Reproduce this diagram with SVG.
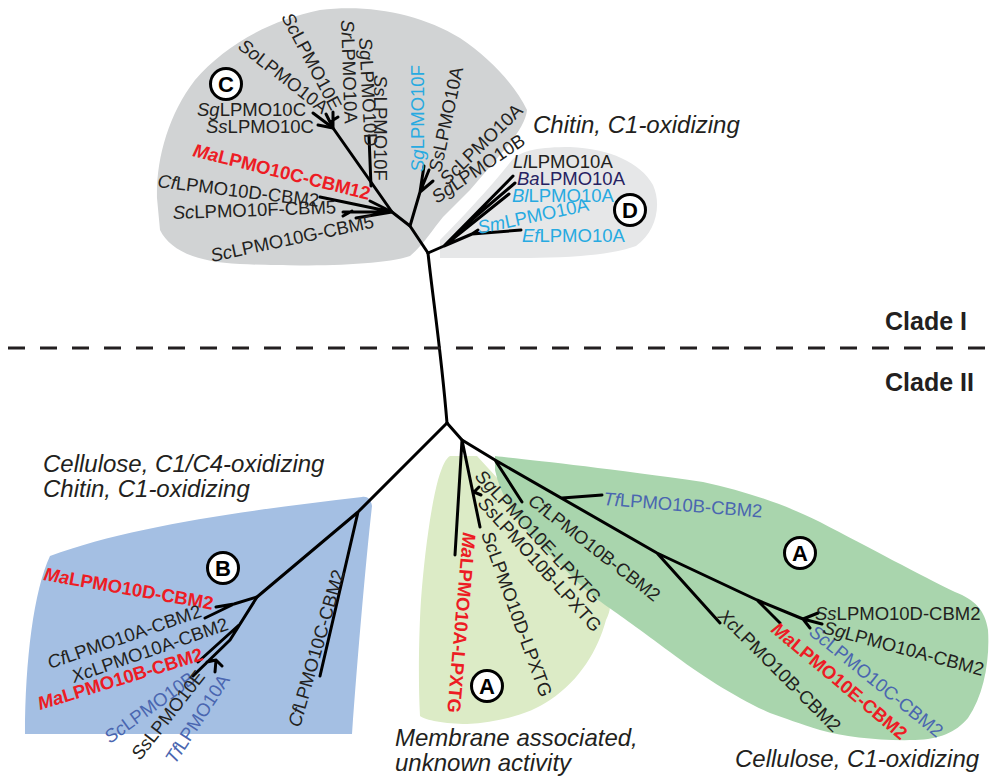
<svg xmlns="http://www.w3.org/2000/svg" width="992" height="779" viewBox="0 0 992 779">
<style>
.t{font-family:"Liberation Sans",Arial,sans-serif;font-size:18.5px;fill:#231f20}
.r{fill:#ed1c24;font-weight:bold}
.bl{fill:#4a66b0}
.lb{fill:#27aae1}
.nv{fill:#262262}
.i{font-style:italic}
.an{font-family:"Liberation Sans",Arial,sans-serif;font-size:24px;font-style:italic;fill:#231f20}
.cl{font-family:"Liberation Sans",Arial,sans-serif;font-size:25px;font-weight:bold;fill:#231f20}
.br{stroke:#000;stroke-width:3;fill:none;stroke-linecap:round;stroke-linejoin:round}
.cc{fill:#fff;stroke:#000;stroke-width:3}
.cz{font-family:"Liberation Sans",Arial,sans-serif;font-size:22px;font-weight:bold;fill:#000;text-anchor:middle}
</style>
<rect width="992" height="779" fill="#fff"/>
<g id="regions">
<path id="region-C" fill="#d1d3d4" d="M157,198 C156,160 168,115 195,80 C225,45 270,20 320,10 C370,4 420,14 460,38 C490,58 515,85 527,110 C526,122 515,138 500,155 L470,190 L443,217 C432,230 425,243 410,256 C380,266 300,267 240,264 C195,262 170,250 160,230 Z"/>
<path id="region-D" fill="#e6e7e8" d="M440,258 L440,240 C460,220 490,188 512,160 C522,150 540,147 570,147 C610,149 640,162 653,185 C662,205 656,232 636,246 C610,256 560,258 520,258 Z"/>
<path id="region-B" fill="#a4bfe3" d="M50,556 C34,590 25,660 25,734 L352,734 C358,650 366,560 372,506 C371,499 367,496 362,497 C250,510 130,526 50,556 Z"/>
<path id="region-A1" fill="#dcebc6" d="M450,456 L477,456 L607,598 C612,604 610,612 606,620 C598,650 580,680 550,700 C530,714 500,722 467,724 C445,724 425,720 420,716 C418,680 419,630 421,600 C424,560 430,510 438,480 C442,466 446,458 450,456 Z"/>
<path id="region-A2" fill="#a9d5ad" d="M495,456 C530,460 600,467 703,482 C750,492 790,507 820,522 C870,548 920,575 955,592 C975,600 985,610 988,630 C990,660 984,695 968,718 C955,733 940,739 915,740 C880,741 845,737 820,730 C800,724 785,718 770,713 C740,700 700,675 670,652 C640,630 620,615 605,605 C585,590 570,575 558,562 C540,545 525,530 515,515 C505,500 498,485 495,470 Z"/>
</g>
<g id="connectors">
<path class="br" d="M428,253 C433,300 441,350 447,423"/>
<path class="br" d="M428,253 L410,226 L392,212 L333,128 L313,113"/>
<path class="br" d="M410,226 L420,192 L424,166 M420,192 L429,170 M420,192 L433,181"/>
<path class="br" d="M392,212 L320,197 M392,212 L370,201 M392,212 L343,212 M352,211 L343,216 M392,212 L356,218"/>
<path class="br" d="M371,186 L369,136"/>
<path class="br" d="M333,128 L318,125 M333,128 L326,114 M333,128 L333,112 M330,122 L338,117"/>
<path class="br" d="M428,253 L444,246 L513,176 M462,228 L515,183 M444,246 L509,194 M444,246 L472,234 L521,230 M472,234 L478,230"/>
<path class="br" d="M447,423 L358,512 L320,676 M358,512 L257,597 L234,604 L216,607 M234,604 L205,618"/>
<path class="br" d="M257,597 L230,640 L193,676 M239,625 L198,662 M207,662 L216,660 L215,672 M216,660 L222,666"/>
<path class="br" d="M447,423 L462,440 L455,555 M462,440 L480,527 M474,492 L479,487 M474,492 L481,495"/>
<path class="br" d="M462,440 L495,460 L522,502 M495,460 L657,553 L757,600 L803,619 M562,498 L602,495 M657,553 L720,623 M757,600 L780,623 M803,619 L818,613 M803,619 L822,624 M803,619 L810,628"/>
</g>
<g id="divider">
<line x1="8" y1="348" x2="992" y2="348" stroke="#231f20" stroke-width="3" stroke-dasharray="17 15"/>
</g>
<g id="clade-labels">
<text class="cl" x="885" y="330">Clade I</text>
<text class="cl" x="885" y="391">Clade II</text>
</g>
<g id="annotations">
<text class="an" x="533" y="133">Chitin, C1-oxidizing</text>
<text class="an" x="43" y="472">Cellulose, C1/C4-oxidizing</text>
<text class="an" x="43" y="497">Chitin, C1-oxidizing</text>
<text class="an" x="395" y="746">Membrane associated,</text>
<text class="an" x="395" y="771">unknown activity</text>
<text class="an" x="735" y="767">Cellulose, C1-oxidizing</text>
</g>
<g id="group-circles">
<g id="circle-C"><circle class="cc" cx="226" cy="84" r="15.5"/><text class="cz" x="226" y="92">C</text></g>
<g id="circle-D"><circle class="cc" cx="630" cy="210" r="15.5"/><text class="cz" x="630" y="218">D</text></g>
<g id="circle-B"><circle class="cc" cx="223" cy="568" r="15.5"/><text class="cz" x="223" y="576">B</text></g>
<g id="circle-A1"><circle class="cc" cx="487" cy="686" r="15.5"/><text class="cz" x="487" y="694">A</text></g>
<g id="circle-A2"><circle class="cc" cx="800" cy="553" r="15.5"/><text class="cz" x="800" y="561">A</text></g>
</g>
<g id="leaves-C">
<g id="SgLPMO10C"><text class="t" transform="translate(197,116)"><tspan class="i">Sg</tspan>LPMO10C</text></g>
<g id="SsLPMO10C"><text class="t" transform="translate(206,133)"><tspan class="i">Ss</tspan>LPMO10C</text></g>
<g id="MaLPMO10C"><text class="t r" transform="translate(192,156) rotate(14)"><tspan class="i">Ma</tspan>LPMO10C-CBM12</text></g>
<g id="CfLPMO10D"><text class="t" transform="translate(157,187) rotate(7)"><tspan class="i">Cf</tspan>LPMO10D-CBM2</text></g>
<g id="ScLPMO10F"><text class="t" transform="translate(173,219) rotate(-2)"><tspan class="i">Sc</tspan>LPMO10F-CBM5</text></g>
<g id="ScLPMO10G"><text class="t" transform="translate(212,262) rotate(-12)"><tspan class="i">Sc</tspan>LPMO10G-CBM5</text></g>
<g id="SoLPMO10A"><text class="t" transform="translate(237,48) rotate(38)"><tspan class="i">So</tspan>LPMO10A</text></g>
<g id="ScLPMO10E"><text class="t" transform="translate(281,17) rotate(62)"><tspan class="i">Sc</tspan>LPMO10E</text></g>
<g id="SrLPMO10A"><text class="t" transform="translate(341,20) rotate(88)"><tspan class="i">Sr</tspan>LPMO10A</text></g>
<g id="SgLPMO10D"><text class="t" transform="translate(359,38) rotate(87)"><tspan class="i">Sg</tspan>LPMO10D</text></g>
<g id="SsLPMO10F"><text class="t" transform="translate(374,75) rotate(90)"><tspan class="i">Ss</tspan>LPMO10F</text></g>
<g id="SgLPMO10F"><text class="t lb" transform="translate(424,172) rotate(-90)"><tspan class="i">Sg</tspan>LPMO10F</text></g>
<g id="SsLPMO10A"><text class="t" transform="translate(441,173) rotate(-78)"><tspan class="i">Ss</tspan>LPMO10A</text></g>
<g id="ScLPMO10A"><text class="t" transform="translate(447,186) rotate(-44)"><tspan class="i">Sc</tspan>LPMO10A</text></g>
<g id="SgLPMO10B"><text class="t" transform="translate(437,204) rotate(-34)"><tspan class="i">Sg</tspan>LPMO10B</text></g>
</g>
<g id="leaves-D">
<g id="LlLPMO10A"><text class="t" x="513" y="168"><tspan class="i">Ll</tspan>LPMO10A</text></g>
<g id="BaLPMO10A"><text class="t nv" x="517" y="185"><tspan class="i">Ba</tspan>LPMO10A</text></g>
<g id="BlLPMO10A"><text class="t lb" x="512" y="202"><tspan class="i">Bl</tspan>LPMO10A</text></g>
<g id="SmLPMO10A"><text class="t lb" transform="translate(479,234) rotate(-12)"><tspan class="i">Sm</tspan>LPMO10A</text></g>
<g id="EfLPMO10A"><text class="t lb" x="522" y="242"><tspan class="i">Ef</tspan>LPMO10A</text></g>
</g>
<g id="leaves-B">
<g id="MaLPMO10D"><text class="t r" transform="translate(43,580) rotate(10)"><tspan class="i">Ma</tspan>LPMO10D-CBM2</text></g>
<g id="CfLPMO10A"><text class="t" transform="translate(50,669) rotate(-19)"><tspan class="i">Cf</tspan>LPMO10A-CBM2</text></g>
<g id="XcLPMO10A"><text class="t" transform="translate(74,683) rotate(-19)"><tspan class="i">Xc</tspan>LPMO10A-CBM2</text></g>
<g id="MaLPMO10B"><text class="t r" transform="translate(40,710) rotate(-17)"><tspan class="i">Ma</tspan>LPMO10B-CBM2</text></g>
<g id="ScLPMO10B"><text class="t bl" transform="translate(110,744) rotate(-36)"><tspan class="i">Sc</tspan>LPMO10B</text></g>
<g id="SsLPMO10E"><text class="t" transform="translate(140,761) rotate(-52)"><tspan class="i">Ss</tspan>LPMO10E</text></g>
<g id="TfLPMO10A"><text class="t bl" transform="translate(175,765) rotate(-57)"><tspan class="i">Tf</tspan>LPMO10A</text></g>
<g id="CfLPMO10C"><text class="t" transform="translate(300,728) rotate(-74)"><tspan class="i">Cf</tspan>LPMO10C-CBM2</text></g>
</g>
<g id="leaves-A1">
<g id="MaLPMO10A"><text class="t r" transform="translate(463,532) rotate(95)"><tspan class="i">Ma</tspan>LPMO10A-LPXTG</text></g>
<g id="SgLPMO10E"><text class="t" transform="translate(474,477) rotate(47)"><tspan class="i">Sg</tspan>LPMO10E-LPXTG</text></g>
<g id="SsLPMO10B"><text class="t" transform="translate(477,504) rotate(48)"><tspan class="i">Ss</tspan>LPMO10B-LPXTG</text></g>
<g id="ScLPMO10D"><text class="t" transform="translate(481,534) rotate(70)"><tspan class="i">Sc</tspan>LPMO10D-LPXTG</text></g>
</g>
<g id="leaves-A2">
<g id="CfLPMO10B"><text class="t" transform="translate(527,503) rotate(38)"><tspan class="i">Cf</tspan>LPMO10B-CBM2</text></g>
<g id="TfLPMO10B"><text class="t bl" transform="translate(603,505) rotate(4.5)"><tspan class="i">Tf</tspan>LPMO10B-CBM2</text></g>
<g id="XcLPMO10B"><text class="t" transform="translate(717,617) rotate(45)"><tspan class="i">Xc</tspan>LPMO10B-CBM2</text></g>
<g id="MaLPMO10E"><text class="t r" transform="translate(770,631) rotate(40)"><tspan class="i">Ma</tspan>LPMO10E-CBM2</text></g>
<g id="ScLPMO10C"><text class="t bl" transform="translate(808,634) rotate(39)"><tspan class="i">Sc</tspan>LPMO10C-CBM2</text></g>
<g id="SgLPMO10A"><text class="t" transform="translate(822,633) rotate(15)"><tspan class="i">Sg</tspan>LPMO10A-CBM2</text></g>
<g id="SsLPMO10D"><text class="t" transform="translate(815,620)"><tspan class="i">Ss</tspan>LPMO10D-CBM2</text></g>
</g>
</svg>
